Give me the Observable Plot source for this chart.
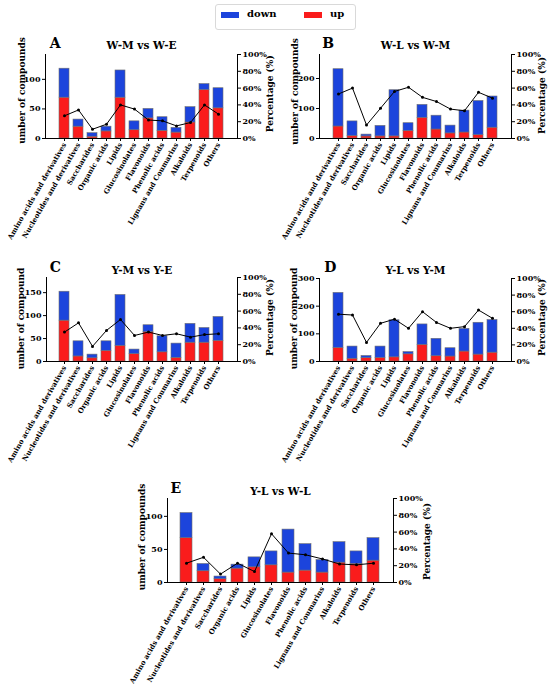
<!DOCTYPE html>
<html><head><meta charset="utf-8">
<script src="https://cdn.jsdelivr.net/npm/d3@7"></script>
<script src="https://cdn.jsdelivr.net/npm/@observablehq/plot@0.6"></script>
<style>
body{margin:0;background:#fff;}
#root{position:relative;width:550px;height:685px;overflow:hidden;background:#fff;font-family:"DejaVu Serif",serif;font-weight:bold;}
#root svg{position:absolute;left:0;top:0;}
#legend{position:absolute;left:215px;top:4px;width:141px;height:26px;border:1px solid #d9d9d9;border-radius:3px;box-sizing:border-box;font-size:10px;}
#legend .sw{position:absolute;top:7px;width:18px;height:6px;}
#legend .lb{position:absolute;top:3px;line-height:12px;}
</style></head><body><div id="root"></div>
<script>
const categories = ["Amino acids and derivatives","Nucleotides and derivatives","Saccharides","Organic acids","Lipids","Glucosinolates","Flavonoids","Phenolic acids","Lignans and Coumarins","Alkaloids","Terpenoids","Others"];
const titles = ["W-M vs W-E","W-L vs W-M","Y-M vs Y-E","Y-L vs Y-M","Y-L vs W-L"];
const letters = ["A","B","C","D","E"];
const legendKeys = ["down","up"];

const upA   = [69,20,3,12,69,14,34,13,10,27,82,51];
const downA = [49,12,6,8,46,15,16,23,8,26,10,34];
const pctA  = [27,34,11,17,40,35,22,21,15,19,40,29];

const upB   = [40,8,7,7,7,25,69,30,17,20,11,36];
const downB = [191,49,6,35,154,26,43,46,26,73,114,104];
const pctB  = [53,60,16,36,56,61,49,44,35,33,55,48];

const upC   = [89,11,7,23,34,16,64,20,8,41,41,45];
const downC = [63,33,8,21,111,10,15,35,31,41,32,52];
const pctC  = [35,46,18,37,50,31,35,31,33,29,32,33];

const upD   = [49,10,12,13,15,26,60,19,18,36,25,32];
const downD = [199,44,8,41,134,8,74,63,30,82,115,118];
const pctD  = [57,56,23,46,51,40,60,47,40,42,62,52];

const upE   = [67,17,5,21,23,26,15,18,15,30,28,33];
const downE = [38,11,4,6,15,21,65,40,19,31,19,34];
const pctE  = [23,30,10,23,13,58,35,33,28,22,21,23];

const yMaxes = [142,280,183,300,127];
const countTicks = [[0,50,100],[0,100,200],[0,50,100,150],[0,100,200,300],[0,50,100]];
const pctTicks = [0,20,40,60,80,100];
const yLabels = ["umber of compounds","umber of compounds","umber of compound","umber of compound","umber of compounds"];
const pctLabel = "Percentage (%)";

const ups = [upA,upB,upC,upD,upE];
const downs = [downA,downB,downC,downD,downE];
const pcts = [pctA,pctB,pctC,pctD,pctE];

const BLUE = "#1c44dc", RED = "#fa1c1c";

const layout = [
  {x0:45, x1:237, y0:54,  y1:138, ttl:-8.5, lx:4.3, ly:-11,   ylx:-23, yly:-6,   plx:33,   ply:-2.7},
  {x0:319,x1:511, y0:54,  y1:138, ttl:-8.5, lx:2.7, ly:-11,   ylx:-24, yly:-5,   plx:30.7, ply:-1},
  {x0:46, x1:237, y0:277, y1:361, ttl:-7,   lx:3.3, ly:-10.3, ylx:-25, yly:-1,   plx:33,   ply:-2},
  {x0:319,x1:511, y0:278, y1:361, ttl:-8,   lx:4.7, ly:-11.3, ylx:-25, yly:-1.5, plx:30.7, ply:-2.5},
  {x0:167,x1:393, y0:498, y1:582, ttl:-7,   lx:3,   ly:-10,   ylx:-25, yly:-3.5, plx:33.7, ply:1}
];

const root = document.getElementById("root");

function makePanel(i){
  const L = layout[i];
  const rows = [
    ...categories.map((c,j)=>({cat:c,type:"up",value:ups[i][j]})),
    ...categories.map((c,j)=>({cat:c,type:"down",value:downs[i][j]}))
  ];
  const pctRows = categories.map((c,j)=>({cat:c,pct:pcts[i][j]}));
  const common = {
    width:550, height:685,
    marginLeft:L.x0, marginRight:550-L.x1, marginTop:L.y0, marginBottom:685-L.y1,
    style:{background:"transparent", fontFamily:"DejaVu Serif", fontWeight:"bold", fontSize:"8px", color:"#000", overflow:"visible"}
  };
  const xScale = {type:"band", domain:categories, paddingInner:0.27, paddingOuter:0.655, axis:null};
  const bars = Plot.plot({
    ...common,
    x:{...xScale},
    y:{domain:[0,yMaxes[i]], axis:null},
    color:{domain:legendKeys, range:[BLUE,RED]},
    marks:[
      Plot.barY(rows,{x:"cat", y:"value", fill:"type", stroke:"#707070", strokeWidth:0.6}),
      Plot.axisY({ticks:countTicks[i], tickSize:3, tickPadding:2, label:null, fontSize:8}),
      Plot.axisX({tickRotate:-60, tickSize:3, tickPadding:2, label:null, fontSize:7}),
      Plot.frame({anchor:"left", stroke:"#000"}),
      Plot.frame({anchor:"bottom", stroke:"#000"}),
      Plot.text([yLabels[i]],{frameAnchor:"left", rotate:-90, dx:L.ylx, dy:L.yly, fontSize:9, textAnchor:"middle", lineAnchor:"middle"}),
      Plot.text([titles[i]],{frameAnchor:"top", dy:L.ttl, fontSize:10.5, textAnchor:"middle", lineAnchor:"middle"}),
      Plot.text([letters[i]],{frameAnchor:"top-left", dx:L.lx, dy:L.ly, fontSize:14, textAnchor:"start", lineAnchor:"middle"})
    ]
  });
  const line = Plot.plot({
    ...common,
    x:{...xScale},
    y:{domain:[0,100], axis:null},
    marks:[
      Plot.axisY({anchor:"right", ticks:pctTicks, tickFormat:d=>d+"%", tickSize:3, tickPadding:2, label:null, fontSize:8}),
      Plot.frame({anchor:"right", stroke:"#000"}),
      Plot.line(pctRows,{x:"cat", y:"pct", stroke:"#000", strokeWidth:1}),
      Plot.dot(pctRows,{x:"cat", y:"pct", r:1.5, fill:"#000"}),
      Plot.text([pctLabel],{frameAnchor:"right", rotate:-90, dx:L.plx, dy:L.ply, fontSize:9, textAnchor:"middle", lineAnchor:"middle"})
    ]
  });
  root.appendChild(bars);
  root.appendChild(line);
}
for (let i=0;i<5;i++) makePanel(i);

const leg = document.createElement("div");
leg.id = "legend";
leg.innerHTML = `<div class="sw" style="left:5px;background:${BLUE}"></div><div class="lb" style="left:31px">${legendKeys[0]}</div>`+
  `<div class="sw" style="left:88px;background:${RED}"></div><div class="lb" style="left:114px">${legendKeys[1]}</div>`;
root.appendChild(leg);
</script></body></html>
